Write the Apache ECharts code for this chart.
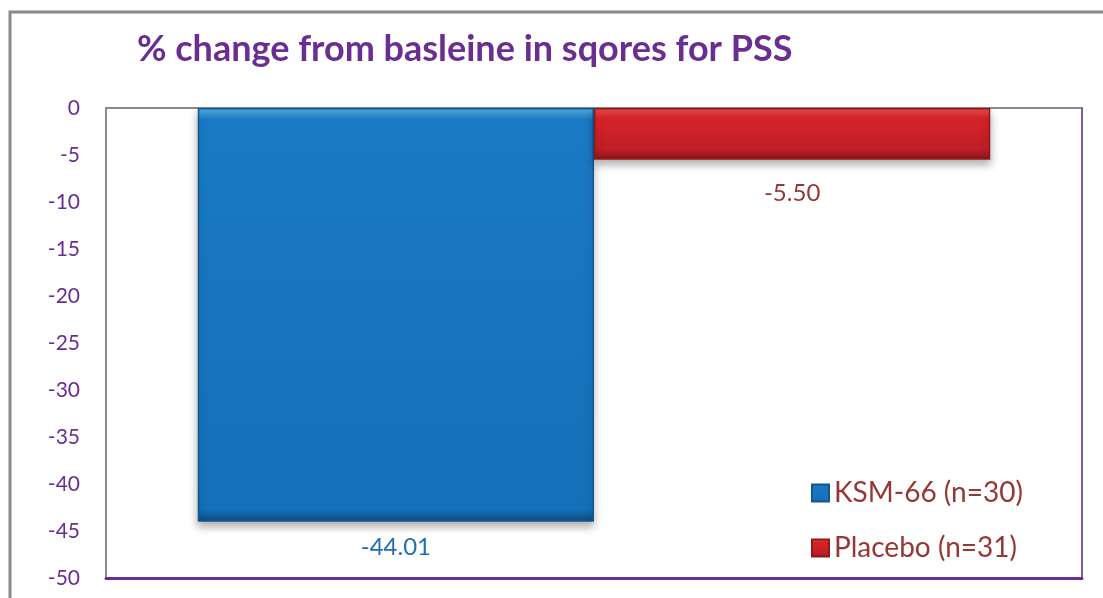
<!DOCTYPE html>
<html>
<head>
<meta charset="utf-8">
<script src="https://cdn.jsdelivr.net/npm/echarts@6/dist/echarts.min.js"></script>
<style>
  html, body { margin: 0; padding: 0; background: #fff; }
  #pss { width: 1103px; height: 598px; }
</style>
</head>
<body>
<div id="pss"></div>
<script>
// values
const categories = ['PSS'];
const seriesNames = ['KSM-66 (n=30)', 'Placebo (n=31)'];
const ksmValues = [-44.01];
const placeboValues = [-5.50];
const yTicks = { min: -50, max: 0, step: 5 };

const font = 'Lato';

const myChart = echarts.init(document.getElementById('pss'));

const option = {
  backgroundColor: '#fff',
  animation: false,
  title: {
    text: '% change from basleine in sqores for PSS',
    left: 132,
    top: 26,
    textStyle: {
      color: '#6A2D91',
      fontFamily: font,
      fontWeight: 'bold',
      fontSize: 36
    }
  },
  legend: {
    orient: 'vertical',
    left: 806,
    top: 474,
    itemWidth: 17,
    itemHeight: 17,
    itemGap: 27,
    icon: 'rect',
    data: seriesNames,
    textStyle: {
      color: '#953735',
      fontFamily: font,
      fontSize: 28
    }
  },
  grid: {
    left: 106,
    right: 21,
    top: 108,
    bottom: 20,
    show: true,
    borderColor: '#8a8a8a',
    borderWidth: 2,
    backgroundColor: '#fff'
  },
  xAxis: {
    type: 'category',
    data: categories,
    axisLine: { onZero: false, lineStyle: { color: '#6A2D91', width: 3 } },
    axisTick: { show: false },
    axisLabel: { show: false }
  },
  yAxis: [
    {
      type: 'value',
      min: yTicks.min,
      max: yTicks.max,
      interval: yTicks.step,
      axisLine: { show: true, lineStyle: { color: '#8a8a8a', width: 2 } },
      axisTick: { show: false },
      splitLine: { show: false },
      axisLabel: {
        color: '#6A2D91',
        fontFamily: font,
        fontSize: 21,
        margin: 26
      }
    },
    {
      type: 'value',
      position: 'right',
      min: yTicks.min,
      max: yTicks.max,
      interval: yTicks.step,
      axisLine: { show: true, lineStyle: { color: '#7A4BA0', width: 1.5 } },
      axisTick: { show: false },
      splitLine: { show: false },
      axisLabel: { show: false }
    }
  ],
  series: [
    {
      name: seriesNames[0],
      type: 'bar',
      data: ksmValues,
      barWidth: '40.6%',
      barGap: '0%',
      itemStyle: {
        color: new echarts.graphic.LinearGradient(0, 0, 0, 1, [
          { offset: 0, color: '#55b3e6' },
          { offset: 0.03, color: '#1a7ac4' },
          { offset: 0.97, color: '#1470b8' },
          { offset: 1, color: '#0e4a7c' }
        ]),
        borderColor: '#12578f',
        borderWidth: 1.5,
        shadowColor: 'rgba(0,0,0,0.3)',
        shadowBlur: 8,
        shadowOffsetY: 5
      },
      label: {
        show: true,
        position: 'outside',
        distance: 14,
        formatter: p => p.value.toFixed(2),
        color: '#1F6FB5',
        fontFamily: font,
        fontSize: 24
      }
    },
    {
      name: seriesNames[1],
      type: 'bar',
      data: placeboValues,
      barWidth: '40.6%',
      itemStyle: {
        color: new echarts.graphic.LinearGradient(0, 0, 0, 1, [
          { offset: 0, color: '#f0514f' },
          { offset: 0.2, color: '#d82329' },
          { offset: 0.8, color: '#bd1f26' },
          { offset: 1, color: '#8a1418' }
        ]),
        borderColor: '#8f1a1e',
        borderWidth: 1.5,
        shadowColor: 'rgba(0,0,0,0.3)',
        shadowBlur: 8,
        shadowOffsetY: 5
      },
      label: {
        show: true,
        position: 'outside',
        distance: 22,
        formatter: p => p.value.toFixed(2),
        color: '#953735',
        fontFamily: font,
        fontSize: 24
      }
    }
  ],
  graphic: [
    {
      type: 'rect',
      silent: true,
      shape: { x: 10, y: 12, width: 1200, height: 700 },
      style: { fill: 'none', stroke: '#8a8a8a', lineWidth: 3 }
    }
  ]
};

myChart.setOption(option, true);
</script>
</body>
</html>
